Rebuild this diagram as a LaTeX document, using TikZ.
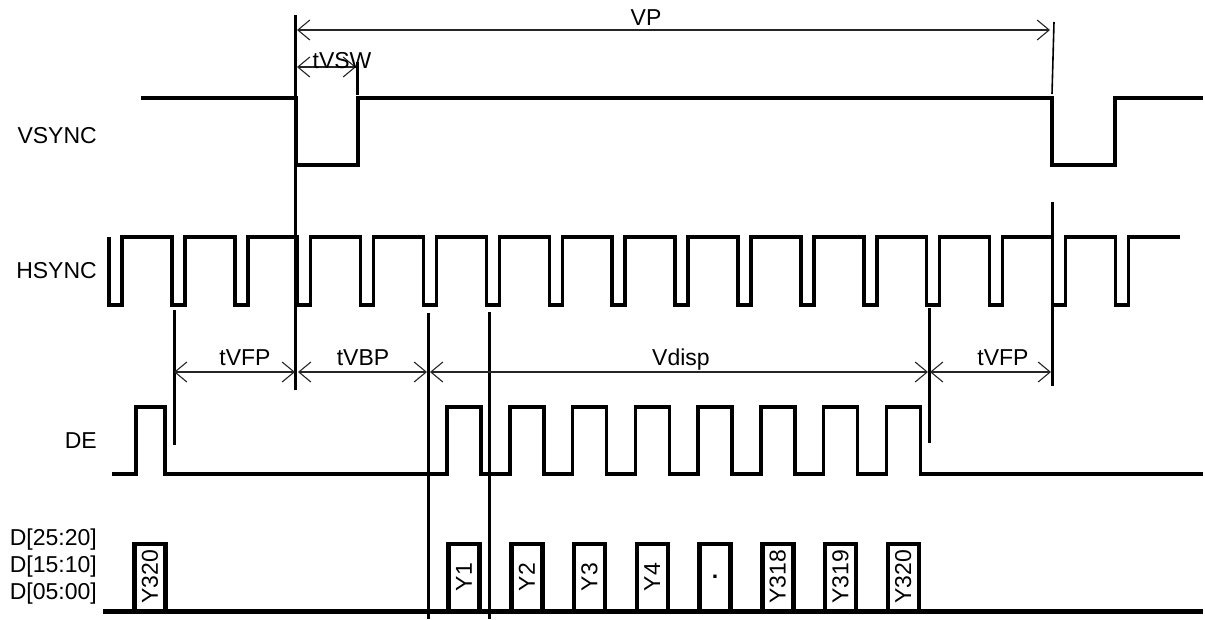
\documentclass[tikz,border=0pt]{standalone}
\usepackage{fontspec}
\setmainfont{Liberation Sans}
\usetikzlibrary{arrows.meta}
\begin{document}
\begin{tikzpicture}[x=1pt,y=-1pt,
  wave/.style={line width=3.5pt, line join=miter},
  marker/.style={line width=3pt},
  thinmarker/.style={line width=1.6pt},
  dim/.style={line width=1.1pt, draw=black!85, {Straight Barb[length=12pt,width=20pt,line width=1.1pt]}-{Straight Barb[length=12pt,width=20pt,line width=1.1pt]}},
  databox/.style={line width=4.5pt, line join=miter},
  lbl/.style={font=\fontsize{23}{27}\selectfont, inner sep=0pt}]
\useasboundingbox (0,0) rectangle (1205,619);

% signal names
\node[lbl, anchor=base east] (nVS) at (97,143) {VSYNC};
\node[lbl, anchor=base east] (nHS) at (97,278) {HSYNC};
\node[lbl, anchor=base east] (nDE) at (97,448) {DE};
\node[lbl, anchor=base east] (nD1) at (97,545) {D[25:20]};
\node[lbl, anchor=base east] (nD2) at (97,572) {D[15:10]};
\node[lbl, anchor=base east] (nD3) at (97,599) {D[05:00]};

% VSYNC
\draw[wave] (141,98) -- (296,98) -- (296,165) -- (358,165) -- (358,98) -- (1052,98) -- (1052,165) -- (1115,165) -- (1115,98) -- (1203,98);

% HSYNC
\draw[wave] (109,237) \foreach \k in {0,...,16} { -- ({109+62.9*\k},237) -- ({109+62.9*\k},305) -- ({122+62.9*\k},305) -- ({122+62.9*\k},237) } -- (1180,237);

% DE
\draw[wave] (112,474) -- (136,474) -- (136,407) -- (165,407) -- (165,474)
  \foreach \k in {0,...,7} { -- ({447+62.75*\k},474) -- ({447+62.75*\k},407) -- ({481+62.75*\k},407) -- ({481+62.75*\k},474) } -- (1203,474);

% data bus
\draw[line width=5pt] (103,611) -- (1203,611);
\foreach \c/\t/\r [count=\i] in {150/Y320/90, 464/Y1/90, 526.75/Y2/90, 589.5/Y3/90, 652.25/Y4/90, 715/{\bfseries .}/0, 777.75/Y318/90, 840.5/Y319/90, 903.25/Y320/90} {
  \draw[databox] (\c-15.5,611) -- (\c-15.5,544) -- (\c+15.5,544) -- (\c+15.5,611);
  \node[lbl, rotate=\r] (box\i) at (\c,577) {\t};
}

% marker lines
\coordinate (m1t) at (295,15);   \coordinate (m1b) at (295,390);
\coordinate (m2t) at (357,62);   \coordinate (m2b) at (357,95);
\coordinate (m3t) at (1054,22);  \coordinate (m3b) at (1052,94);
\coordinate (m4t) at (1052,202); \coordinate (m4b) at (1052,386);
\coordinate (m5t) at (174,310);  \coordinate (m5b) at (174,445);
\coordinate (m6t) at (428,313);  \coordinate (m6b) at (428,619);
\coordinate (m7t) at (489,312);  \coordinate (m7b) at (489,619);
\coordinate (m8t) at (929,308);  \coordinate (m8b) at (929,443);
\draw[marker] (m1t) -- (m1b);
\draw[marker] (m2t) -- (m2b);
\draw[thinmarker] (m3t) -- (m3b);
\draw[marker] (m4t) -- (m4b);
\draw[marker] (m5t) -- (m5b);
\draw[marker] (m6t) -- (m6b);
\draw[marker] (m7t) -- (m7b);
\draw[marker] (m8t) -- (m8b);

% dimensions
\coordinate (vpL) at (297,30);  \coordinate (vpR) at (1050,30);
\coordinate (swL) at (297,67);  \coordinate (swR) at (356,67);
\coordinate (f1L) at (174,372); \coordinate (f1R) at (295,372);
\coordinate (bpL) at (298,372); \coordinate (bpR) at (427,372);
\coordinate (dpL) at (430,372); \coordinate (dpR) at (928,372);
\coordinate (f2L) at (930,372); \coordinate (f2R) at (1051,372);
\draw[dim] (vpL) -- (vpR);
\draw[dim] (swL) -- (swR);
\draw[dim] (f1L) -- (f1R);
\draw[dim] (bpL) -- (bpR);
\draw[dim] (dpL) -- (dpR);
\draw[dim] (f2L) -- (f2R);

\node[lbl, anchor=base] (tVP)   at (646,25)  {VP};
\node[lbl, anchor=base] (tSW)   at (342,68)  {tVSW};
\node[lbl, anchor=base] (tFP1)  at (245,365) {tVFP};
\node[lbl, anchor=base] (tBP)   at (363,365) {tVBP};
\node[lbl, anchor=base] (tDisp) at (681,365) {Vdisp};
\node[lbl, anchor=base] (tFP2)  at (1003,365) {tVFP};
\end{tikzpicture}
\end{document}
